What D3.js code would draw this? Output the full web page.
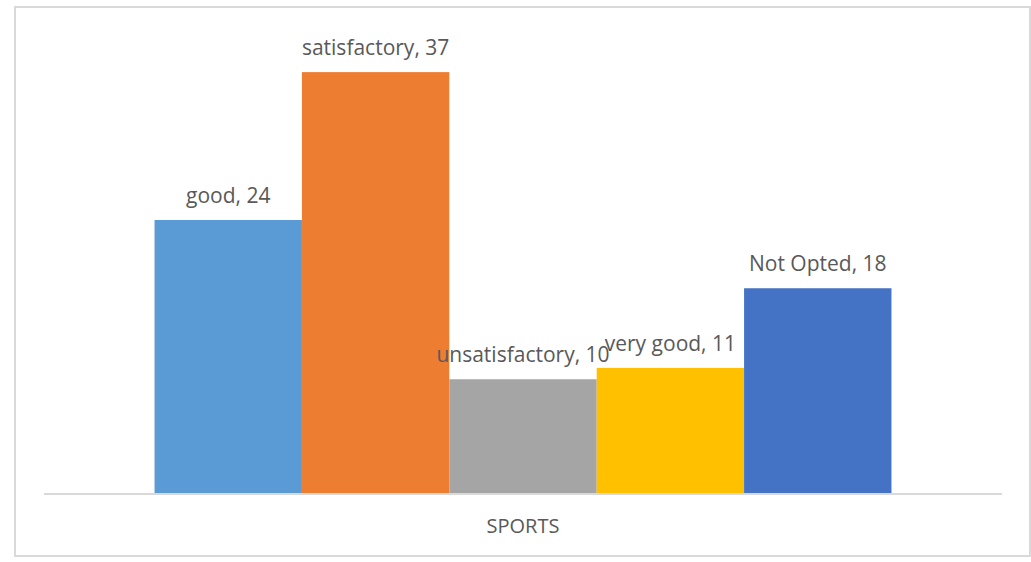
<!DOCTYPE html>
<html>
<head>
	<meta charset="utf-8">
	<title>SPORTS</title>
	<style>
body {
  background-color: #ffffff;
  margin: 0;
}

svg {
  background-color: #ffffff;
  display: block;
}
	</style>
</head>
<body>

	<div id="my_dataviz"></div>

	<script src="https://d3js.org/d3.v7.min.js"></script>

	<script>
// chart data
var categories = ["SPORTS"];
var seriesNames = ["good", "satisfactory", "unsatisfactory", "very good", "Not Opted"];
var seriesValues = [24, 37, 10, 11, 18];
var seriesColors = ["#5B9BD5", "#ED7D31", "#A5A5A5", "#FFC000", "#4472C4"];
var yMax = 40;

// Set the dimensions and margins of the graph
var totalWidth = 1031,
  totalHeight = 562;
var margin = {
    top: 38,
    right: 29,
    bottom: 69,
    left: 44
  },
  width = totalWidth - margin.left - margin.right,
  height = totalHeight - margin.top - margin.bottom;

var root = d3.select("#my_dataviz")
  .append("svg")
  .attr("width", totalWidth)
  .attr("height", totalHeight);

// chart area border
root.append("rect")
  .attr("x", 15)
  .attr("y", 7)
  .attr("width", 1015)
  .attr("height", 549)
  .attr("fill", "none")
  .attr("stroke", "#d9d9d9")
  .attr("stroke-width", 2);

var svg = root.append("g")
  .attr("transform", "translate(" + margin.left + "," + margin.top + ")");

var x0 = d3.scaleBand()
  .domain(categories)
  .range([0, width])
  .padding(0);

// gap width 150% -> half a gap on each side of the group
var barW = x0.bandwidth() / (seriesNames.length + 1.5);
var x1 = d3.scaleBand()
  .domain(seriesNames)
  .range([0.75 * barW, x0.bandwidth() - 0.75 * barW])
  .padding(0);

var y = d3.scaleLinear()
  .domain([0, yMax])
  .range([height, 0]);

var rows = seriesNames.map(function(name, i) {
  return { name: name, value: seriesValues[i], color: seriesColors[i] };
});

var group = svg.selectAll(".cat")
  .data(categories)
  .enter().append("g")
  .attr("class", "cat")
  .attr("transform", function(d) { return "translate(" + x0(d) + ",0)"; });

group.selectAll("rect")
  .data(rows)
  .enter().append("rect")
  .attr("x", function(d) { return x1(d.name); })
  .attr("y", function(d) { return y(d.value); })
  .attr("width", x1.bandwidth())
  .attr("height", function(d) { return height - y(d.value); })
  .attr("fill", function(d) { return d.color; });

// x axis line
svg.append("line")
  .attr("x1", 0)
  .attr("x2", width)
  .attr("y1", height + 1)
  .attr("y2", height + 1)
  .attr("stroke", "#d9d9d9")
  .attr("stroke-width", 2);

// data labels
group.selectAll(".lbl")
  .data(rows)
  .enter().append("text")
  .attr("class", "lbl")
  .attr("x", function(d) { return x1(d.name) + x1.bandwidth() / 2; })
  .attr("y", function(d) { return y(d.value) - 17; })
  .attr("text-anchor", "middle")
  .style("font-family", "'Open Sans', sans-serif")
  .style("font-size", "21px")
  .style("fill", "#595959")
  .text(function(d) { return d.name + ", " + d.value; });

// category label
svg.selectAll(".cat-label")
  .data(categories)
  .enter().append("text")
  .attr("class", "cat-label")
  .attr("x", function(d) { return x0(d) + x0.bandwidth() / 2; })
  .attr("y", height + 40)
  .attr("text-anchor", "middle")
  .style("font-family", "'Open Sans', sans-serif")
  .style("font-size", "20px")
  .style("fill", "#595959")
  .text(function(d) { return d; });
	</script>

</body>
</html>
